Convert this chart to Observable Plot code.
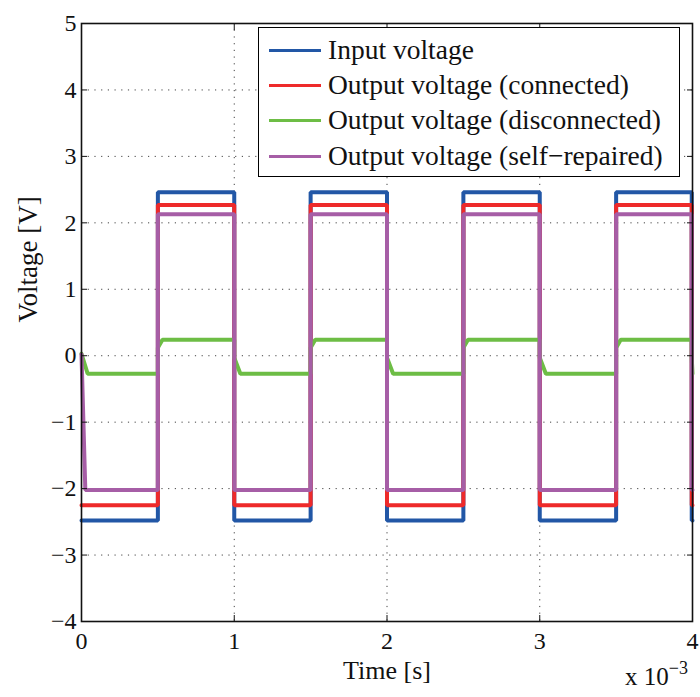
<!DOCTYPE html>
<html>
<head>
<meta charset="utf-8">
<script src="https://cdn.jsdelivr.net/npm/d3@7"></script>
<script src="https://cdn.jsdelivr.net/npm/@observablehq/plot@0.6"></script>
<style>
  body { margin: 0; background: #fff; }
  #wrap { position: relative; width: 700px; height: 697px; overflow: hidden; font-family: "Liberation Serif", "DejaVu Serif", serif; }
  #legend { position: absolute; left: 258px; top: 27px; width: 422px; height: 150px; border: 1.5px solid #000; background: #fff; box-sizing: border-box; font-size: 27.5px; color: #111; }
  .row { position: absolute; left: 10px; height: 30px; display: flex; align-items: center; white-space: nowrap; }
  .sw { width: 52px; height: 3px; margin-right: 7px; }
  #expo { position: absolute; left: 625px; top: 664px; font-size: 25px; line-height: 26px; height: 28px; color: #111; white-space: nowrap; }
  #expo sup { font-size: 18px; line-height: 0; position: relative; top: -2px; }
</style>
</head>
<body>
<div id="wrap"></div>
<script>
// ---- data (time in ms, i.e. x 10^-3 s) ----
const segStart = [0, 0.5, 1.0, 1.5, 2.0, 2.5, 3.0, 3.5, 3.995];
const segEnd   = [0.5, 1.0, 1.5, 2.0, 2.5, 3.0, 3.5, 3.995, 4.0];

const inputV        = [-2.48, 2.46, -2.48, 2.46, -2.48, 2.46, -2.48, 2.46, -2.48];
const connectedV    = [-2.25, 2.27, -2.25, 2.27, -2.25, 2.27, -2.25, 2.27, -2.25];
const disconnectedV = [-0.27, 0.24, -0.27, 0.24, -0.27, 0.24, -0.27, 0.24, -0.27];
const repairedV     = [-2.02, 2.13, -2.02, 2.13, -2.02, 2.13, -2.02, 2.13, -2.02];

// value right after each edge, and settling time (ms) to the flat level
const disconnectedJump   = [0.03, 0.12, -0.03, 0.12, -0.03, 0.12, -0.03, 0.12, -0.03];
const disconnectedSettle = [0.04, 0.03, 0.04, 0.03, 0.04, 0.03, 0.04, 0.03, 0.0];
const repairedJump       = [0.02, 2.13, -2.02, 2.13, -2.02, 2.13, -2.02, 2.13, -2.02];
const repairedSettle     = [0.025, 0, 0, 0, 0, 0, 0, 0, 0];

const seriesNames  = ["Input voltage", "Output voltage (connected)", "Output voltage (disconnected)", "Output voltage (self\u2212repaired)"];
const seriesColors = ["#2257a6", "#ee2a2a", "#6dbd45", "#a65ea6"];

const xTicks = [0, 1, 2, 3, 4];
const yTicks = [-4, -3, -2, -1, 0, 1, 2, 3, 4, 5];
const xTitle = "Time [s]";
const yTitle = "Voltage [V]";
const fmt = d => (d < 0 ? "\u2212" + Math.abs(d) : String(d));

function build(name, levels, jumps, settle) {
  const pts = [];
  levels.forEach((v, i) => {
    const j = jumps ? jumps[i] : v;
    const s = settle ? settle[i] : 0;
    pts.push({series: name, t: segStart[i], v: j});
    if (s > 0) pts.push({series: name, t: segStart[i] + s, v});
    pts.push({series: name, t: segEnd[i], v});
  });
  return pts;
}

const lines = [
  build(seriesNames[0], inputV),
  build(seriesNames[1], connectedV),
  build(seriesNames[2], disconnectedV, disconnectedJump, disconnectedSettle),
  build(seriesNames[3], repairedV, repairedJump, repairedSettle)
];

const FF = "Liberation Serif";
const chart = Plot.plot({
  width: 700,
  height: 697,
  marginLeft: 81,
  marginRight: 8,
  marginTop: 23,
  marginBottom: 76,
  style: {fontFamily: "'Liberation Serif', serif", fontSize: "23px", color: "#111", background: "#fff"},
  x: {domain: [0, 4], axis: null},
  y: {domain: [-4, 5], axis: null},
  marks: [
    Plot.gridY(yTicks.filter(d => d > -4 && d < 5), {stroke: "#444", strokeOpacity: 1, strokeDasharray: "1.2,5.5"}),
    Plot.gridX(xTicks.filter(d => d > 0 && d < 4), {stroke: "#444", strokeOpacity: 1, strokeDasharray: "1.2,5.5"}),
    ...lines.map((pts, i) => Plot.line(pts, {x: "t", y: "v", stroke: seriesColors[i], strokeWidth: 4, strokeLinejoin: "miter"})),
    Plot.axisY(yTicks, {anchor: "left", tickSize: 6, dx: 6, fill: "none", text: null, label: null}),
    Plot.axisY(yTicks, {anchor: "right", tickSize: 6, dx: -6, fill: "none", text: null, label: null}),
    Plot.axisX(xTicks, {anchor: "bottom", tickSize: 6, dy: -6, fill: "none", text: null, label: null}),
    Plot.axisX(xTicks, {anchor: "top", tickSize: 6, dy: 6, fill: "none", text: null, label: null}),
    Plot.text(yTicks, {frameAnchor: "left", y: d => d, text: fmt, textAnchor: "end", dx: -5, lineAnchor: "middle", fontSize: 24, fontFamily: FF, fill: "#111"}),
    Plot.text(xTicks, {frameAnchor: "bottom", x: d => d, text: fmt, dy: 20, lineAnchor: "middle", fontSize: 24, fontFamily: FF, fill: "#111"}),
    Plot.text([xTitle], {frameAnchor: "bottom", text: d => d, dy: 49, lineAnchor: "middle", fontSize: 26, fontFamily: FF, fill: "#111"}),
    Plot.text([yTitle], {frameAnchor: "left", text: d => d, dx: -53, rotate: -90, lineAnchor: "middle", fontSize: 27, fontFamily: FF, fill: "#111"}),
    Plot.frame({stroke: "#111", strokeWidth: 1.6})
  ]
});

const wrap = document.getElementById("wrap");
wrap.appendChild(chart);

const legend = document.createElement("div");
legend.id = "legend";
const rowTops = [7, 42, 77, 113];
seriesNames.forEach((n, i) => {
  const r = document.createElement("div");
  r.className = "row";
  r.style.top = rowTops[i] + "px";
  const sw = document.createElement("div");
  sw.className = "sw";
  sw.style.background = seriesColors[i];
  const tx = document.createElement("span");
  tx.textContent = n;
  r.appendChild(sw);
  r.appendChild(tx);
  legend.appendChild(r);
});
wrap.appendChild(legend);

const expo = document.createElement("div");
expo.id = "expo";
expo.innerHTML = "x 10<sup>\u22123</sup>";
wrap.appendChild(expo);
</script>
</body>
</html>
